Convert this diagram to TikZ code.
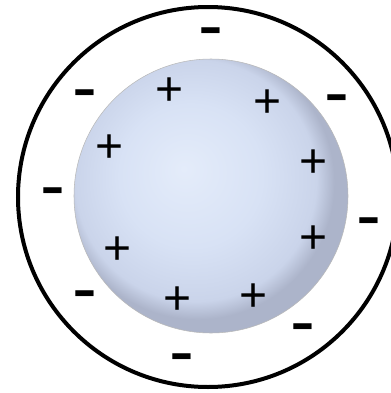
\documentclass[tikz,border=0pt]{standalone}
\usepackage{fontspec}
\usepackage{xcolor}
\usetikzlibrary{shapes,positioning}

\newfontfamily\signfont{Liberation Sans}

\definecolor{ballcore}{RGB}{228,236,250}
\definecolor{ballmid}{RGB}{216,226,245}
\definecolor{ballside}{RGB}{202,212,234}
\definecolor{ballrim}{RGB}{172,180,202}

\pgfdeclareradialshading{cellball}{\pgfpoint{-5bp}{5bp}}{%
  color(0bp)=(ballcore); color(13bp)=(ballmid); color(22bp)=(ballside);
  color(25bp)=(ballrim); color(50bp)=(ballrim)}

\begin{document}
\begin{tikzpicture}[
    x=0.75pt, y=-0.75pt,
    membrane/.style={draw=black, line width=3pt},
    cell/.style={shading=cellball, draw=gray!55, line width=0.4pt},
    poscharge/.style={font=\signfont\fontsize{36}{36}\selectfont, inner sep=0pt,
      text height=22pt, text depth=0pt, anchor=base, yshift=-12.6pt},
    negcharge/.style={font=\signfont\fontsize{56}{56}\selectfont, inner sep=0pt,
      text height=17pt, text depth=0pt, anchor=base, yshift=-13.7pt}
]
\useasboundingbox (0,0) rectangle (390,393);

% Outer shell
\coordinate (shellc) at (208,197);
\draw[membrane] (shellc) circle[radius=190*0.75pt];

% Inner sphere
\coordinate (cellc) at (211,196);
\shade[cell] (cellc) circle[radius=137*0.75pt];

% Positive charges on the sphere
\node[poscharge] (p1) at (170,89) {+};
\node[poscharge] (p2) at (268,101) {+};
\node[poscharge] (p3) at (110,146) {+};
\node[poscharge] (p4) at (314,161) {+};
\node[poscharge] (p5) at (118,248) {+};
\node[poscharge] (p6) at (314,237) {+};
\node[poscharge] (p7) at (178,298) {+};
\node[poscharge] (p8) at (254,295) {+};

% Negative charges in the shell
\node[negcharge] (m1) at (211,32) {-};
\node[negcharge] (m2) at (85,94) {-};
\node[negcharge] (m3) at (337,99) {-};
\node[negcharge] (m4) at (53,192) {-};
\node[negcharge] (m5) at (369,222) {-};
\node[negcharge] (m6) at (85,295) {-};
\node[negcharge] (m7) at (303,328) {-};
\node[negcharge] (m8) at (182,358) {-};

\end{tikzpicture}
\end{document}
